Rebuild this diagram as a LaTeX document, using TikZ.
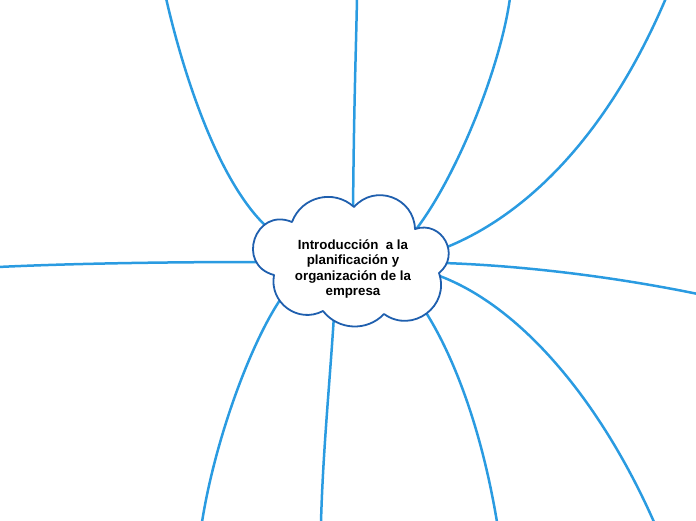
\documentclass[tikz,border=0pt]{standalone}
\usepackage{fontspec}
\setmainfont{Liberation Sans}
\definecolor{linkblue}{HTML}{2A9BE1}
\definecolor{cloudblue}{HTML}{1F5FAE}
\begin{document}
\begin{tikzpicture}[x=1pt,y=-1pt,
  link/.style={draw=linkblue, line width=2.5pt, line cap=round},
  cloudline/.style={draw=cloudblue, line width=1.8pt, fill=white, line join=round},
  titletext/.style={font=\bfseries\fontsize{13.3}{15.5}\selectfont, align=center, text=black}]
\useasboundingbox (0,0) rectangle (696,520);
% connector ends
\coordinate (s1) at (268,228); \coordinate (e1) at (166,-2);
\coordinate (s2) at (353,212); \coordinate (e2) at (357,-2);
\coordinate (s3) at (414,232); \coordinate (e3) at (510,-2);
\coordinate (s4) at (442,249); \coordinate (e4) at (666,-2);
\coordinate (s5) at (258,262); \coordinate (e5) at (-2,267);
\coordinate (s6) at (444,263); \coordinate (e6) at (698,294);
\coordinate (s7) at (437,275); \coordinate (e7) at (654,522);
\coordinate (s8) at (280,300); \coordinate (e8) at (202,522);
\coordinate (s9) at (334,315); \coordinate (e9) at (321,522);
\coordinate (s10) at (425,311); \coordinate (e10) at (497,522);
\draw[link] (s1) .. controls (215,180) and (180,60) .. (e1);
\draw[link] (s2) .. controls (354,100) and (356,50) .. (e2);
\draw[link] (s3) .. controls (455,180) and (500,70) .. (e3);
\draw[link] (s4) .. controls (530,215) and (610,130) .. (e4);
\draw[link] (s5) .. controls (150,262) and (60,264) .. (e5);
\draw[link] (s6) .. controls (530,266) and (620,278) .. (e6);
\draw[link] (s7) .. controls (520,305) and (600,400) .. (e7);
\draw[link] (s8) .. controls (250,345) and (215,440) .. (e8);
\draw[link] (s9) .. controls (330,380) and (323,450) .. (e9);
\draw[link] (s10) .. controls (450,350) and (480,420) .. (e10);
% cloud
\coordinate (c8) at (292,222);
\coordinate (c1) at (354,207);
\coordinate (c2) at (415,229);
\coordinate (c3) at (439,273);
\coordinate (c5) at (384,314);
\coordinate (c6) at (323,311);
\coordinate (c7) at (274,275);
\draw[cloudline] (c8) .. controls +(-69.7:27.3) and +(222.5:27.3) .. (c1)
  .. controls +(-48.5:31.6) and +(268.1:31.6) .. (c2)
  .. controls +(-18.6:28.5) and +(321.4:28.5) .. (c3)
  .. controls +(71.1:35.0) and +(35.5:35.0) .. (c5)
  .. controls +(133.6:24.6) and +(52:24.6) .. (c6)
  .. controls +(152.3:28.2) and +(100.3:28.2) .. (c7)
  .. controls +(194.9:40.0) and +(202.7:40.0) .. (c8) -- cycle;
\node[titletext] (title) at (353,269) {Introducción\ \ a la\\planificación y\\organización de la\\empresa};
\end{tikzpicture}
\end{document}
